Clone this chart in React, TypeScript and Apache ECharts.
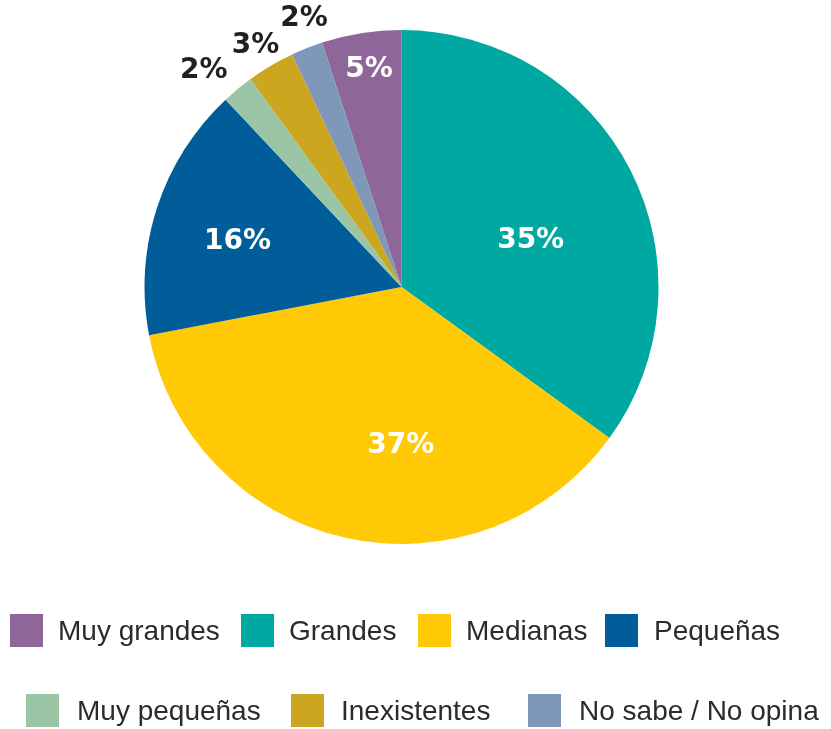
import React, { useEffect, useRef } from "react";
import * as echarts from "echarts";

const categories = ["Muy grandes", "Grandes", "Medianas", "Pequeñas", "Muy pequeñas", "Inexistentes", "No sabe / No opina"];
const values = [5, 35, 37, 16, 2, 3, 2];
const colors = ["#8f6699", "#00a8a2", "#ffc906", "#005d99", "#9ac6a6", "#cca61f", "#7f97b9"];
const labelColors = ["#ffffff", "#ffffff", "#ffffff", "#ffffff", "#231f20", "#231f20", "#231f20"];
const labelShift: [number, number][] = [
  [-12, -90],
  [12, 11],
  [28, 28],
  [-39, -7],
  [-114, -117],
  [-79, -130],
  [-49, -148],
];
const legendPos: [number, number, number][] = [
  [10, 614, 10],
  [241, 614, 10],
  [418, 614, 10],
  [605, 614, 11],
  [26, 694, 13],
  [291, 694, 12],
  [528, 694, 13],
];

export default function App() {
  const ref = useRef<HTMLDivElement>(null);
  useEffect(() => {
    if (!ref.current) return;
    const chart = echarts.init(ref.current, null, { renderer: "svg" });
    const legends = categories.map((name, i) => ({
      data: [name],
      left: legendPos[i][0],
      top: legendPos[i][1],
      padding: 0,
      itemWidth: 33,
      itemHeight: 33,
      itemGap: 0,
      icon: "rect",
      selectedMode: false,
      textStyle: {
        fontFamily: "Liberation Sans",
        fontSize: 28,
        color: "#2b2b2b",
        padding: [0, 0, 0, legendPos[i][2]],
      },
    }));
    chart.setOption({
      animation: false,
      color: colors,
      legend: legends,
      series: [
        {
          type: "pie",
          center: [401.5, 287],
          radius: 257,
          startAngle: 108,
          clockwise: true,
          avoidLabelOverlap: false,
          itemStyle: { borderWidth: 0 },
          label: {
            show: true,
            position: "inside",
            formatter: "{c}%",
            fontFamily: "DejaVu Sans",
            fontWeight: "bold",
            fontSize: 28,
          },
          labelLine: { show: false },
          labelLayout: (p: any) => ({ dx: labelShift[p.dataIndex][0], dy: labelShift[p.dataIndex][1] }),
          data: categories.map((name, i) => ({
            name,
            value: values[i],
            label: { color: labelColors[i] },
          })),
        },
      ],
    });
    return () => chart.dispose();
  }, []);
  return <div ref={ref} style={{ position: "fixed", left: 0, top: 0, width: 831, height: 729 }} />;
}
